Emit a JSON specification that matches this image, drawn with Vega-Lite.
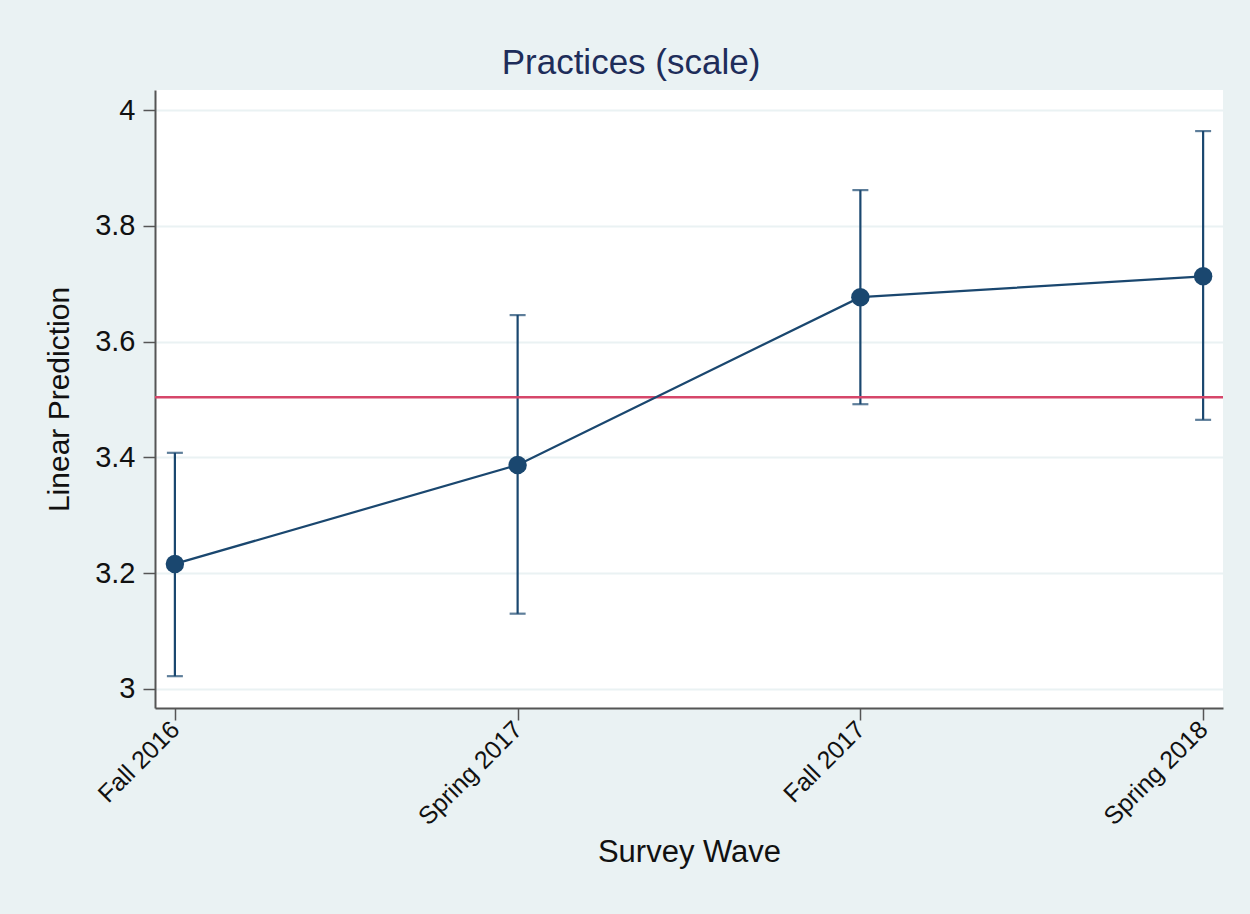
{
  "$schema": "https://vega.github.io/schema/vega-lite/v6.json",
  "width": 1068,
  "height": 618,
  "autosize": {"type": "none"},
  "padding": {"left": 155, "top": 90, "right": 27, "bottom": 206},
  "background": "#eaf2f3",
  "config": {
    "font": "Liberation Sans",
    "view": {"fill": "white", "stroke": null}
  },
  "title": {
    "text": "Practices (scale)",
    "fontSize": 35,
    "fontWeight": "normal",
    "color": "#1e2d5a",
    "offset": 9,
    "dx": -58,
    "anchor": "middle"
  },
  "data": {
    "values": [
      {"wave": "Fall 2016", "mean": 3.216, "lo": 3.022, "hi": 3.408},
      {"wave": "Spring 2017", "mean": 3.387, "lo": 3.130, "hi": 3.646},
      {"wave": "Fall 2017", "mean": 3.677, "lo": 3.492, "hi": 3.862},
      {"wave": "Spring 2018", "mean": 3.713, "lo": 3.465, "hi": 3.964}
    ]
  },
  "encoding": {
    "x": {
      "field": "wave",
      "type": "ordinal",
      "sort": null,
      "scale": {"type": "point", "padding": 0.058},
      "axis": {
        "title": "Survey Wave",
        "titleFontSize": 31,
        "titleFontWeight": "normal",
        "titleColor": "#111",
        "titlePadding": 8,
        "labelAngle": -45,
        "labelAlign": "right",
        "labelBaseline": "middle",
        "labelFontSize": 25,
        "labelColor": "#111",
        "labelPadding": 5,
        "tickSize": 12,
        "tickColor": "#555",
        "tickWidth": 1.5,
        "domainColor": "#555",
        "domainWidth": 2,
        "grid": false
      }
    }
  },
  "layer": [
    {
      "mark": {"type": "rule", "color": "#1a476f", "strokeWidth": 2.2},
      "encoding": {
        "y": {
          "field": "lo",
          "type": "quantitative",
          "scale": {"domain": [2.967, 4.035], "nice": false, "zero": false},
          "axis": {
            "title": "Linear Prediction",
            "titleFontSize": 30,
            "titleFontWeight": "normal",
            "titleColor": "#111",
            "titlePadding": 20,
            "values": [3, 3.2, 3.4, 3.6, 3.8, 4],
            "format": "~g",
            "labelFontSize": 29,
            "labelColor": "#111",
            "labelPadding": 8,
            "tickSize": 12,
            "tickColor": "#555",
            "tickWidth": 1.5,
            "domainColor": "#555",
            "domainWidth": 2,
            "grid": true,
            "gridColor": "#eaf2f3",
            "gridWidth": 2
          }
        },
        "y2": {"field": "hi"}
      }
    },
    {
      "mark": {"type": "tick", "color": "#1a476f", "size": 16, "thickness": 2.2, "orient": "horizontal"},
      "encoding": {"y": {"field": "lo", "type": "quantitative"}}
    },
    {
      "mark": {"type": "tick", "color": "#1a476f", "size": 16, "thickness": 2.2, "orient": "horizontal"},
      "encoding": {"y": {"field": "hi", "type": "quantitative"}}
    },
    {
      "data": {"values": [{"ref": 3.504}]},
      "mark": {"type": "rule", "color": "#d6466a", "strokeWidth": 2.5},
      "encoding": {"y": {"field": "ref", "type": "quantitative"}, "x": {"value": 0}, "x2": {"value": 1068}}
    },
    {
      "mark": {"type": "line", "color": "#1a476f", "strokeWidth": 2.2},
      "encoding": {"y": {"field": "mean", "type": "quantitative"}}
    },
    {
      "mark": {"type": "point", "filled": true, "color": "#1a476f", "size": 340, "opacity": 1, "shape": "circle"},
      "encoding": {"y": {"field": "mean", "type": "quantitative"}}
    }
  ]
}
